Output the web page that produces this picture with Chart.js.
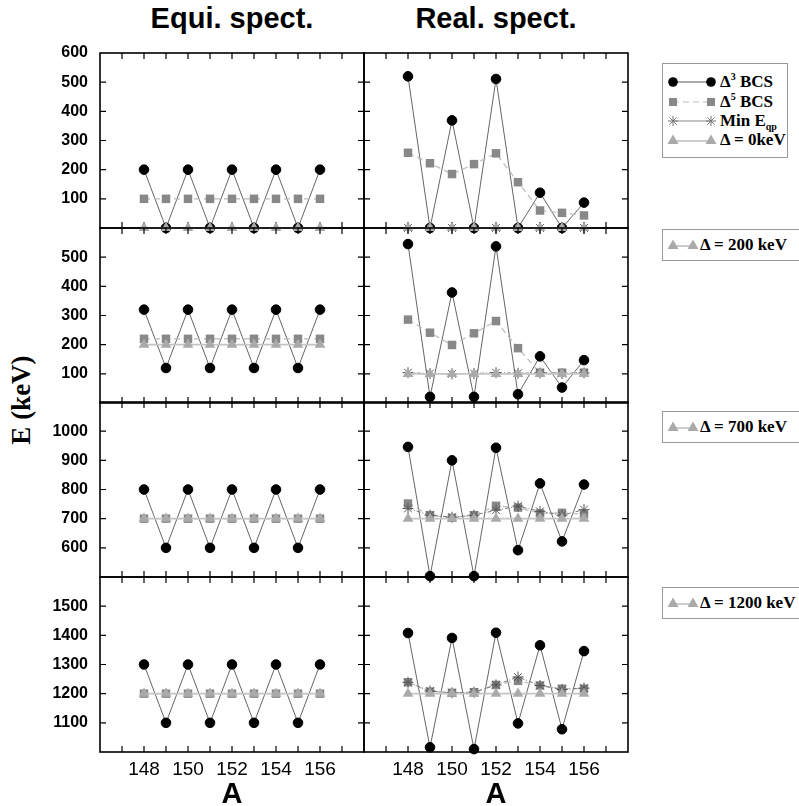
<!DOCTYPE html>
<html>
<head>
<meta charset="utf-8">
<script src="https://cdn.jsdelivr.net/npm/chart.js@4.4.0/dist/chart.umd.min.js"></script>
<style>
    body { margin: 0; background: #fff; width: 799px; height: 806px; position: relative; overflow: hidden; font-family: "Liberation Sans", Arial, sans-serif; }
    canvas { position: absolute; }
    .col-title { position: absolute; top: 2px; font-size: 29px; font-weight: bold; transform: translateX(-50%); white-space: nowrap; }
    .y-title { position: absolute; left: 21px; top: 400px; transform: translate(-50%, -50%) rotate(-90deg); font-family: "Liberation Serif", serif; font-weight: bold; font-size: 27px; white-space: nowrap; }
    .legend { position: absolute; left: 662px; box-sizing: border-box; border: 1px solid #999; background: #fff; font-family: "Liberation Serif", serif; font-weight: bold; font-size: 17px; }
    .legend .row { position: absolute; left: 0; height: 20px; line-height: 20px; white-space: nowrap; }
    .legend svg { position: absolute; left: 3px; top: 0; }
    .legend sup, .legend sub { font-size: 10px; line-height: 0; }
</style>
</head>
<body>

<div class="col-title" style="left: 232px;">Equi. spect.</div>
<div class="col-title" style="left: 496px;">Real. spect.</div>
<div class="y-title">E (keV)</div>

<div class="legend" style="top: 63px; width: 126px; height: 95px;">
    <div class="row" style="top: 8px;">
        <svg width="52" height="20"><line x1="7" y1="10" x2="45" y2="10" stroke="#555" stroke-width="1"/><circle cx="7" cy="10" r="4.8" fill="#000"/><circle cx="45" cy="10" r="4.8" fill="#000"/></svg>
        <span style="position:absolute; left:57px;">&Delta;<sup>3</sup> BCS</span>
    </div>
    <div class="row" style="top: 28px;">
        <svg width="52" height="20"><line x1="7" y1="10" x2="45" y2="10" stroke="#bbb" stroke-width="1.2" stroke-dasharray="6 4"/><rect x="3" y="6" width="8" height="8" fill="#888"/><rect x="41" y="6" width="8" height="8" fill="#888"/></svg>
        <span style="position:absolute; left:57px;">&Delta;<sup>5</sup> BCS</span>
    </div>
    <div class="row" style="top: 47px;">
        <svg width="52" height="20"><line x1="7" y1="10" x2="45" y2="10" stroke="#888" stroke-width="1"/>
            <g stroke="#777" stroke-width="1"><line x1="2" y1="10" x2="12" y2="10"/><line x1="7" y1="5" x2="7" y2="15"/><line x1="3.5" y1="6.5" x2="10.5" y2="13.5"/><line x1="3.5" y1="13.5" x2="10.5" y2="6.5"/>
            <line x1="40" y1="10" x2="50" y2="10"/><line x1="45" y1="5" x2="45" y2="15"/><line x1="41.5" y1="6.5" x2="48.5" y2="13.5"/><line x1="41.5" y1="13.5" x2="48.5" y2="6.5"/></g></svg>
        <span style="position:absolute; left:57px;">Min E<sub>qp</sub></span>
    </div>
    <div class="row" style="top: 66px;">
        <svg width="52" height="20"><line x1="7" y1="11" x2="45" y2="11" stroke="#bbb" stroke-width="1.5"/><polygon points="7,4.5 12.5,14 1.5,14" fill="#aaa"/><polygon points="45,4.5 50.5,14 39.5,14" fill="#aaa"/></svg>
        <span style="position:absolute; left:57px;">&Delta; = 0keV</span>
    </div>
</div>

<div class="legend" style="top: 229px; width: 150px; height: 32px;">
    <div class="row" style="top: 5px;">
        <svg width="34" height="20"><line x1="7" y1="11" x2="27" y2="11" stroke="#bbb" stroke-width="1.5"/><polygon points="7,4.5 12.5,14 1.5,14" fill="#aaa"/><polygon points="27,4.5 32.5,14 21.5,14" fill="#aaa"/></svg>
        <span style="position:absolute; left:37px;">&Delta; = 200 keV</span>
    </div>
</div>
<div class="legend" style="top: 411px; width: 150px; height: 32px;">
    <div class="row" style="top: 5px;">
        <svg width="34" height="20"><line x1="7" y1="11" x2="27" y2="11" stroke="#bbb" stroke-width="1.5"/><polygon points="7,4.5 12.5,14 1.5,14" fill="#aaa"/><polygon points="27,4.5 32.5,14 21.5,14" fill="#aaa"/></svg>
        <span style="position:absolute; left:37px;">&Delta; = 700 keV</span>
    </div>
</div>
<div class="legend" style="top: 587px; width: 150px; height: 32px;">
    <div class="row" style="top: 5px;">
        <svg width="34" height="20"><line x1="7" y1="11" x2="27" y2="11" stroke="#bbb" stroke-width="1.5"/><polygon points="7,4.5 12.5,14 1.5,14" fill="#aaa"/><polygon points="27,4.5 32.5,14 21.5,14" fill="#aaa"/></svg>
        <span style="position:absolute; left:37px;">&Delta; = 1200 keV</span>
    </div>
</div>

<script>
// mass numbers on the x axis
const massA = [148, 149, 150, 151, 152, 153, 154, 155, 156];

// y ranges per row (Delta = 0, 200, 700, 1200 keV)
const yMin = [0, 0, 500, 1000];
const yMax = [600, 600, 1100, 1600];

// Equi. spect. (no Min Eqp marks visible there)
const equiD3_0 = [200, 0, 200, 0, 200, 0, 200, 0, 200];
const equiD5_0 = [100, 100, 100, 100, 100, 100, 100, 100, 100];
const equiGap_0 = [0, 0, 0, 0, 0, 0, 0, 0, 0];

const equiD3_200 = [320, 120, 320, 120, 320, 120, 320, 120, 320];
const equiD5_200 = [220, 220, 220, 220, 220, 220, 220, 220, 220];
const equiGap_200 = [200, 200, 200, 200, 200, 200, 200, 200, 200];

const equiD3_700 = [800, 600, 800, 600, 800, 600, 800, 600, 800];
const equiD5_700 = [700, 700, 700, 700, 700, 700, 700, 700, 700];
const equiGap_700 = [700, 700, 700, 700, 700, 700, 700, 700, 700];

const equiD3_1200 = [1300, 1100, 1300, 1100, 1300, 1100, 1300, 1100, 1300];
const equiD5_1200 = [1200, 1200, 1200, 1200, 1200, 1200, 1200, 1200, 1200];
const equiGap_1200 = [1200, 1200, 1200, 1200, 1200, 1200, 1200, 1200, 1200];

// Real. spect.
const realD3_0 = [520, 0, 369, 0, 511, 0, 121, 0, 87];
const realD5_0 = [258, 222, 185, 219, 256, 157, 60, 52, 43];
const realMin_0 = [0, 0, 0, 0, 0, 0, 0, 0, 0];
const realGap_0 = [0, 0, 0, 0, 0, 0, 0, 0, 0];

const realD3_200 = [545, 21, 379, 21, 537, 30, 160, 53, 147];
const realD5_200 = [286, 241, 199, 239, 281, 188, 104, 104, 104];
const realMin_200 = [104, 101, 100, 101, 104, 102, 103, 101, 103];
const realGap_200 = [100, 100, 100, 100, 100, 100, 100, 100, 100];

const realD3_700 = [946, 503, 900, 503, 943, 592, 821, 622, 817];
const realD5_700 = [752, 712, 703, 712, 744, 738, 718, 720, 715];
const realMin_700 = [735, 712, 705, 712, 729, 743, 725, 712, 731];
const realGap_700 = [700, 700, 700, 700, 700, 700, 700, 700, 700];

const realD3_1200 = [1408, 1016, 1391, 1010, 1409, 1098, 1366, 1078, 1346];
const realD5_1200 = [1239, 1207, 1203, 1205, 1230, 1244, 1228, 1217, 1217];
const realMin_1200 = [1239, 1209, 1203, 1205, 1230, 1257, 1228, 1214, 1219];
const realGap_1200 = [1200, 1200, 1200, 1200, 1200, 1200, 1200, 1200, 1200];

const panels = [
    [0, 0, equiD3_0, equiD5_0, null, equiGap_0],
    [0, 1, equiD3_200, equiD5_200, null, equiGap_200],
    [0, 2, equiD3_700, equiD5_700, null, equiGap_700],
    [0, 3, equiD3_1200, equiD5_1200, null, equiGap_1200],
    [1, 0, realD3_0, realD5_0, realMin_0, realGap_0],
    [1, 1, realD3_200, realD5_200, realMin_200, realGap_200],
    [1, 2, realD3_700, realD5_700, realMin_700, realGap_700],
    [1, 3, realD3_1200, realD5_1200, realMin_1200, realGap_1200]
];

// page layout of the plot boxes
const COL_X = [100, 364];
const ROW_Y = [53, 228, 402, 577];
const PLOT_W = 264;
const PLOT_H = 175;

Chart.defaults.font.family = '"Liberation Sans", Arial, sans-serif';
Chart.defaults.color = '#000';

// gnuplot-like frame with inward ticks on all four sides
const framePlugin = {
    id: 'frame',
    beforeDatasetsDraw(chart) {
        const { ctx, chartArea: a, scales: { x, y } } = chart;
        ctx.save();
        ctx.strokeStyle = '#000';
        ctx.lineWidth = 1.2;
        ctx.setLineDash([]);
        ctx.beginPath();
        for (let v = Math.ceil(x.min) + 1; v < x.max; v++) {
            const px = x.getPixelForValue(v);
            ctx.moveTo(px, a.top); ctx.lineTo(px, a.top + 6);
            ctx.moveTo(px, a.bottom); ctx.lineTo(px, a.bottom - 6);
        }
        for (let v = y.min + 100; v < y.max; v += 100) {
            const py = y.getPixelForValue(v);
            ctx.moveTo(a.left, py); ctx.lineTo(a.left + 6, py);
            ctx.moveTo(a.right, py); ctx.lineTo(a.right - 6, py);
        }
        ctx.stroke();
        ctx.lineWidth = 1.6;
        ctx.strokeRect(a.left, a.top, a.right - a.left, a.bottom - a.top);
        ctx.restore();
    }
};

const toPoints = vals => massA.map((a, i) => ({ x: a, y: vals[i] }));

function makePanel(col, row, d3, d5, dMin, dGap) {
    const isLeft = col === 0;
    const isBottom = row === 3;
    const padL = isLeft ? 10 : 12;
    const yW = isLeft ? 60 : 0;
    const xH = isBottom ? 60 : 0;
    const padB = isBottom ? 0 : 12;

    const cv = document.createElement('canvas');
    cv.width = padL + yW + PLOT_W + 10;
    cv.height = 12 + PLOT_H + xH + padB;
    cv.style.left = (COL_X[col] - padL - yW) + 'px';
    cv.style.top = (ROW_Y[row] - 12) + 'px';
    document.body.appendChild(cv);

    const datasets = [
        {
            label: 'D3 BCS', data: toPoints(d3), order: 3, clip: false,
            borderColor: '#666', borderWidth: 1, pointStyle: 'circle', pointRadius: 4.8,
            pointBackgroundColor: '#000', pointBorderColor: '#000', pointBorderWidth: 1
        },
        {
            label: 'D5 BCS', data: toPoints(d5), order: 2, clip: false,
            borderColor: '#bbb', borderWidth: 1.2, borderDash: [6, 4], pointStyle: 'rect', pointRadius: 6,
            pointBackgroundColor: '#888', pointBorderColor: '#888', pointBorderWidth: 0
        },
        {
            label: 'Gap', data: toPoints(dGap), order: 0, clip: false,
            borderColor: '#c4c4c4', borderWidth: 1.6, pointStyle: 'triangle', pointRadius: 6.2,
            pointBackgroundColor: '#aaa', pointBorderColor: '#aaa', pointBorderWidth: 0
        }
    ];
    if (dMin) {
        datasets.push({
            label: 'Min Eqp', data: toPoints(dMin), order: 1, clip: false,
            borderColor: '#777', borderWidth: 1, borderDash: [4, 2, 1, 2], pointStyle: 'star', pointRadius: 5.5,
            pointBackgroundColor: '#666', pointBorderColor: '#555', pointBorderWidth: 1
        });
    }

    new Chart(cv, {
        type: 'line',
        data: { datasets },
        options: {
            responsive: false,
            animation: false,
            devicePixelRatio: 1,
            layout: { padding: { left: padL, right: 10, top: 12, bottom: padB } },
            plugins: { legend: { display: false }, tooltip: { enabled: false } },
            elements: { line: { tension: 0, fill: false } },
            scales: {
                x: {
                    type: 'linear', min: 146, max: 158,
                    grid: { display: false, drawTicks: false },
                    border: { display: false },
                    ticks: {
                        display: isBottom, stepSize: 1, autoSkip: false, maxRotation: 0, padding: 6,
                        font: { size: 19 }, color: '#000',
                        callback: v => (v % 2 === 0 && v >= 148 && v <= 156) ? String(v) : ''
                    },
                    title: { display: isBottom, text: 'A', font: { size: 29, weight: 'bold' }, color: '#000', padding: 0 },
                    afterFit: s => { s.height = xH; s.paddingLeft = 0; s.paddingRight = 0; }
                },
                y: {
                    min: yMin[row], max: yMax[row],
                    grid: { display: false, drawTicks: false },
                    border: { display: false },
                    ticks: {
                        display: isLeft, stepSize: 100, autoSkip: false, padding: 12,
                        font: { size: 16, weight: 'bold' }, color: '#000',
                        callback: v => (v === yMin[row] || (v === yMax[row] && row > 0)) ? '' : String(v)
                    },
                    afterFit: s => { s.width = yW; s.paddingTop = 0; s.paddingBottom = 0; }
                }
            }
        },
        plugins: [framePlugin]
    });
}

panels.forEach(p => makePanel(...p));
</script>
</body>
</html>
